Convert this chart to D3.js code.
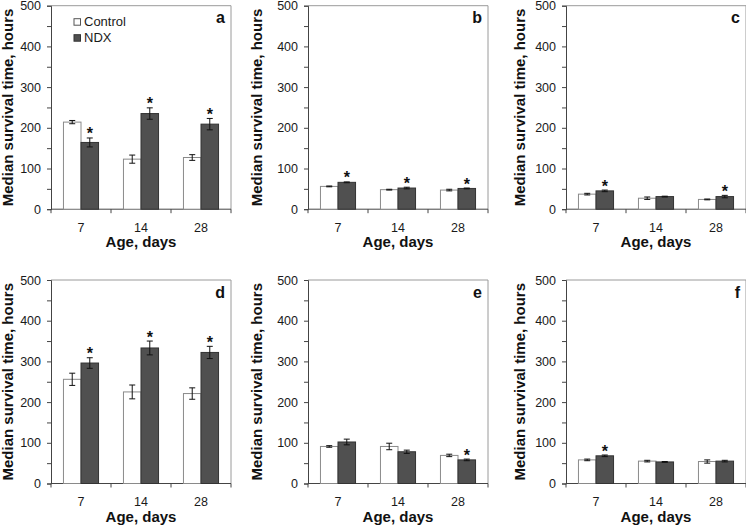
<!DOCTYPE html>
<html>
<head>
<meta charset="utf-8">
<script src="https://cdn.jsdelivr.net/npm/d3@7/dist/d3.min.js"></script>
<style>
  html, body { margin: 0; padding: 0; background: #fff; }
  svg { display: block; font-family: "Liberation Sans", Arial, sans-serif; }
</style>
</head>
<body>
<svg id="chart" width="746" height="527"></svg>
<script>
// ---- data ----
const categories = ["7", "14", "28"];
const seriesNames = ["Control", "NDX"];
const panelLetters = ["a", "b", "c", "d", "e", "f"];
const yTicks = [0, 100, 200, 300, 400, 500];
const yMinorTicks = [50, 150, 250, 350, 450];

const controlValues = [
  [214, 123, 127],
  [56, 48, 47],
  [37, 27, 24],
  [256, 225, 221],
  [91, 91, 69],
  [58, 55, 54]
];
const controlErrors = [
  [4, 10, 7],
  [1, 1, 2],
  [2, 3, 1],
  [15, 17, 14],
  [2, 8, 3],
  [2, 2, 4]
];
const ndxValues = [
  [164, 235, 209],
  [66, 52, 51],
  [45, 31, 31],
  [296, 333, 322],
  [102, 78, 58],
  [68, 53, 55]
];
const ndxErrors = [
  [11, 14, 14],
  [1, 2, 1],
  [2, 1, 3],
  [13, 17, 15],
  [7, 4, 2],
  [2, 1, 2]
];
const ndxSignificant = [
  [true, true, true],
  [true, true, true],
  [true, false, true],
  [true, true, true],
  [false, false, true],
  [true, false, false]
];

// ---- layout ----
const colX = [51, 308, 566];
const rowY = [5.7, 280];
const plotW = 180;
const plotH = 203.5;
const titleOffset = [38, 46, 41];

const svg = d3.select("#chart");
const FONT = '"Liberation Sans", Arial, sans-serif';

const y = d3.scaleLinear().domain([0, 500]).range([plotH, 0]);
const x0 = d3.scaleBand().domain(categories).range([0, plotW]).paddingInner(0).paddingOuter(0);
const x1 = d3.scaleBand().domain(seriesNames).range([0, x0.bandwidth()]).paddingInner(0).paddingOuter(0.71);

panelLetters.forEach((letter, p) => {
  const col = p % 3, row = Math.floor(p / 3);
  const g = svg.append("g").attr("transform", `translate(${colX[col]},${rowY[row]})`);

  // frame top & right
  g.append("path")
    .attr("d", `M0,0H${plotW}V${plotH}`)
    .attr("fill", "none").attr("stroke", "#9a9a9a").attr("stroke-width", 1);

  // y axis
  const yAxis = d3.axisLeft(y).tickValues(yTicks).tickSize(4).tickPadding(6).tickFormat(d3.format("d"));
  const ya = g.append("g").call(yAxis);
  ya.select(".domain").attr("stroke", "#444");
  ya.selectAll(".tick line").attr("stroke", "#444");
  ya.selectAll(".tick text").attr("font-size", 12.5).attr("fill", "#1a1a1a").attr("font-family", FONT);
  const yMinor = d3.axisLeft(y).tickValues(yMinorTicks).tickSize(4).tickFormat("");
  const ym = g.append("g").call(yMinor);
  ym.select(".domain").remove();
  ym.selectAll(".tick line").attr("stroke", "#444");

  // x axis (ticks at category boundaries)
  g.append("line").attr("x1", 0).attr("x2", plotW).attr("y1", plotH).attr("y2", plotH)
    .attr("stroke", "#444");
  const bounds = categories.map(c => x0(c)).concat([plotW]);
  g.selectAll(".xtick").data(bounds).enter().append("line")
    .attr("x1", d => d).attr("x2", d => d)
    .attr("y1", plotH).attr("y2", plotH + 4).attr("stroke", "#444");
  g.selectAll(".xlab").data(categories).enter().append("text")
    .attr("x", d => x0(d) + x0.bandwidth() / 2)
    .attr("y", plotH + 22.5)
    .attr("text-anchor", "middle").attr("font-size", 12.5).attr("fill", "#1a1a1a")
    .text(d => d);

  // bars
  const rows = categories.map((c, i) => ({
    cat: c,
    items: [
      { s: "Control", v: controlValues[p][i], e: controlErrors[p][i], sig: false },
      { s: "NDX", v: ndxValues[p][i], e: ndxErrors[p][i], sig: ndxSignificant[p][i] }
    ]
  }));
  const groups = g.selectAll(".grp").data(rows).enter().append("g")
    .attr("transform", d => `translate(${x0(d.cat)},0)`);
  const items = groups.selectAll(".it").data(d => d.items).enter();
  items.append("rect")
    .attr("x", d => x1(d.s)).attr("width", x1.bandwidth())
    .attr("y", d => y(d.v)).attr("height", d => plotH - y(d.v))
    .attr("fill", d => d.s === "Control" ? "#ffffff" : "#505050")
    .attr("stroke", d => d.s === "Control" ? "#8a8a8a" : "#333333")
    .attr("stroke-width", 1);
  // error bars
  const cx = d => x1(d.s) + x1.bandwidth() / 2;
  items.append("path")
    .attr("d", d => {
      const c = cx(d), t = y(d.v + d.e), b = y(d.v - d.e);
      return `M${c},${t}V${b}M${c - 3},${t}H${c + 3}M${c - 3},${b}H${c + 3}`;
    })
    .attr("fill", "none").attr("stroke", "#111").attr("stroke-width", 1);
  // significance stars
  items.filter(d => d.sig).append("text")
    .attr("x", cx).attr("y", d => y(d.v + d.e) + 1.5)
    .attr("text-anchor", "middle").attr("font-size", 16).attr("font-weight", "bold").attr("fill", "#111")
    .text("*");

  // panel letter
  g.append("text").attr("x", plotW - 6).attr("y", 17.5)
    .attr("text-anchor", "end").attr("font-size", 16).attr("font-weight", "bold").attr("fill", "#111")
    .text(letter);

  // axis titles
  g.append("text").attr("x", plotW / 2).attr("y", plotH + 38)
    .attr("text-anchor", "middle").attr("font-size", 15).attr("font-weight", "bold").attr("fill", "#111")
    .text("Age, days");
  g.append("text")
    .attr("transform", `translate(${-titleOffset[col]},${plotH / 2}) rotate(-90)`)
    .attr("text-anchor", "middle").attr("font-size", 15).attr("font-weight", "bold").attr("fill", "#111")
    .text("Median survival time, hours");

  // legend in panel a
  if (p === 0) {
    const lg = g.append("g").attr("transform", "translate(23,13)");
    seriesNames.forEach((s, i) => {
      lg.append("rect").attr("x", 0).attr("y", i * 16).attr("width", 6.5).attr("height", 6.5)
        .attr("fill", s === "Control" ? "#fff" : "#505050")
        .attr("stroke", s === "Control" ? "#555" : "#333");
      lg.append("text").attr("x", 10).attr("y", i * 16 + 7.5).attr("font-size", 13).attr("fill", "#1a1a1a")
        .text(s);
    });
  }
});
</script>
</body>
</html>
